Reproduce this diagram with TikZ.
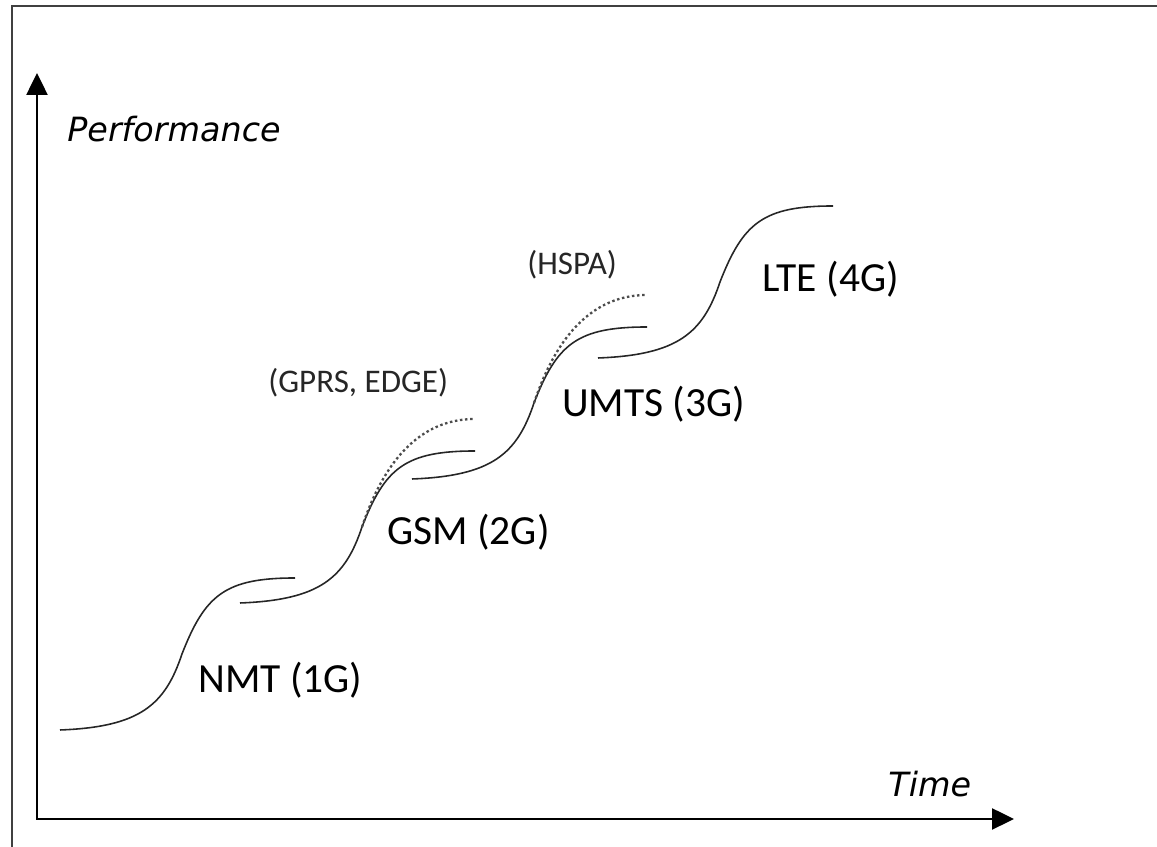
\documentclass[tikz,border=0pt]{standalone}
\usepackage{fontspec}
\usepackage{tikz}
\usetikzlibrary{arrows.meta}
\newfontfamily\carlito{Carlito}
\newfontfamily\dejavu{DejaVu Sans}

\tikzset{
  scurve/.pic={
    \draw[gen] (0,0) .. controls (80,3) and (105,25) .. (122,76)
      .. controls (145,135) and (165,152) .. (235,152);
  }
}

\begin{document}
\begin{tikzpicture}[
  x=0.02cm, y=0.02cm,
  frame/.style={line width=1.1pt, black!75},
  axis/.style={line width=1.4pt, {Triangle[length=0.44cm,width=0.42cm]}-{Triangle[length=0.44cm,width=0.42cm]}},
  gen/.style={line width=0.9pt, black!85},
  evo/.style={line width=1.3pt, black!70, dash pattern=on 1.4pt off 1.5pt},
  genlabel/.style={anchor=base west, inner sep=0pt, font=\carlito\fontsize{23.6}{25}\selectfont},
  evolabel/.style={anchor=base west, inner sep=0pt, text=black!85, font=\carlito\fontsize{18.8}{20}\selectfont},
  axislabel/.style={anchor=base west, inner sep=0pt, font=\dejavu\itshape\fontsize{19}{20}\selectfont}
]
\useasboundingbox (0,0) rectangle (1157,847);
\draw[frame] (12,0) -- (12,841) -- (1157,841);

% axes
\coordinate (O) at (37,28);
\coordinate (ytip) at (37,774);
\coordinate (xtip) at (1014,28);
\draw[axis] (ytip) -- (O) -- (xtip);
\node[axislabel] (perf) at (67,705) {Performance};
\node[axislabel] (time) at (888,50) {Time};

% generations
\pic at (60,117) {scurve};
\pic at (240,244) {scurve};
\pic at (412,368) {scurve};
\pic at (598,489) {scurve};

% evolutions
\draw[evo, shift={(240,244)}] (122,76) .. controls (144,142) and (180,184) .. (235,184);
\draw[evo, shift={(412,368)}] (122,76) .. controls (144,142) and (180,184) .. (235,184);

\node[genlabel] (nmt) at (198,154) {NMT (1G)};
\node[genlabel] (gsm) at (387,302) {GSM (2G)};
\node[genlabel] (umts) at (562,430) {UMTS (3G)};
\node[genlabel] (lte) at (762,555) {LTE (4G)};
\node[evolabel] (gprs) at (268,454) {(GPRS, EDGE)};
\node[evolabel] (hspa) at (527,572) {(HSPA)};
\end{tikzpicture}
\end{document}
